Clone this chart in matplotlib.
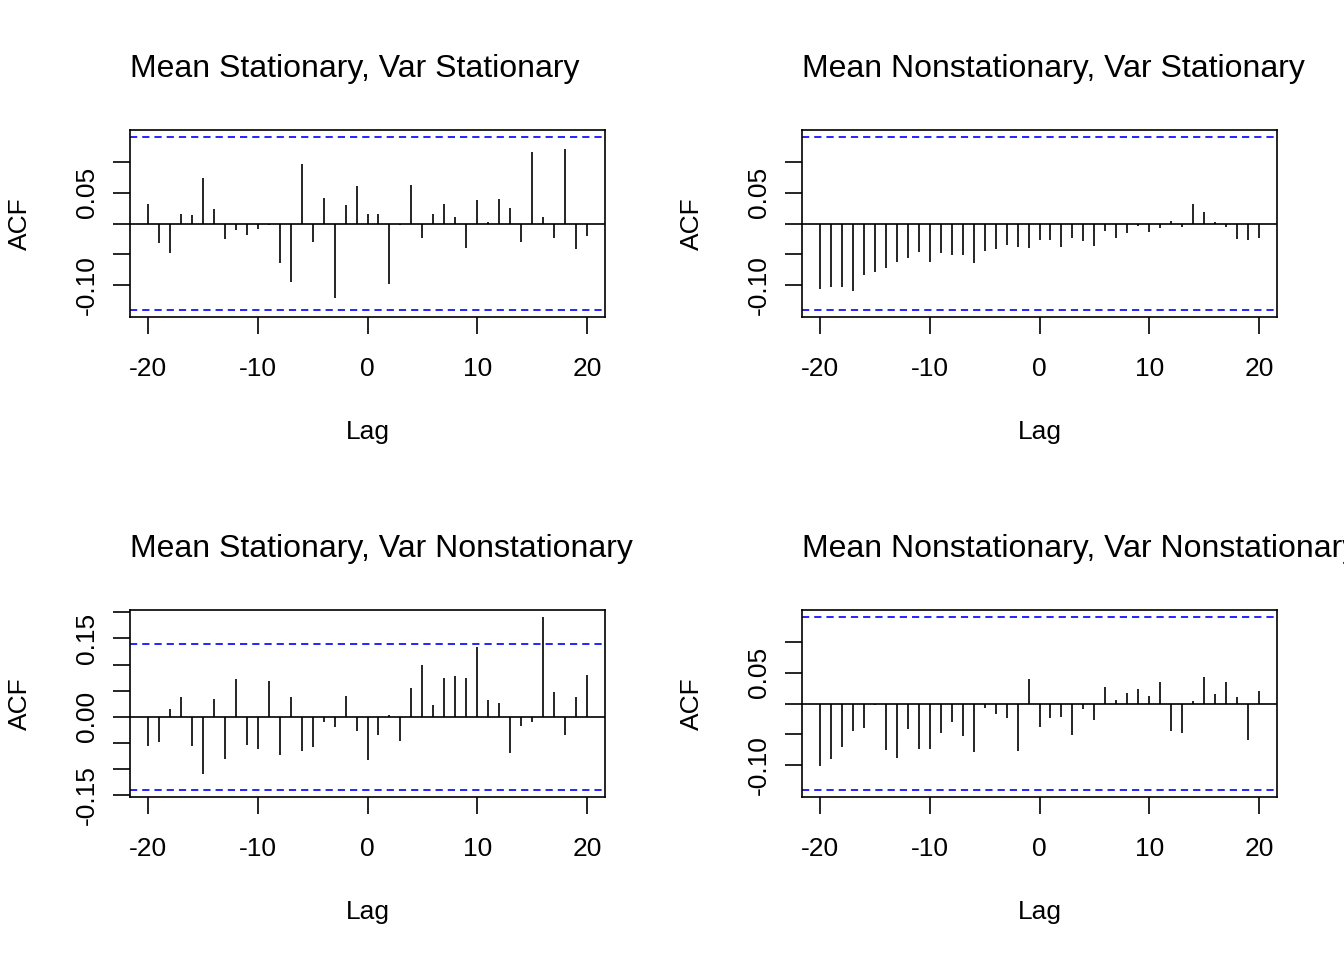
import numpy as np
from matplotlib import pyplot as plt

plt.rcParams['font.family'] = ['Liberation Sans', 'DejaVu Sans']
plt.rcParams['lines.scale_dashes'] = False

lags = np.arange(-20, 21)
ci = 0.140

titles = ['Mean Stationary, Var Stationary',
          'Mean Nonstationary, Var Stationary',
          'Mean Stationary, Var Nonstationary',
          'Mean Nonstationary, Var Nonstationary']

acf_ss = [0.031, -0.031, -0.047, 0.015, 0.013, 0.074, 0.023, -0.025, -0.011, -0.019,
          -0.009, -0.003, -0.064, -0.094, 0.096, -0.030, 0.042, -0.120, 0.030, 0.061,
          0.015,
          0.015, -0.098, -0.003, 0.063, -0.023, 0.015, 0.032, 0.010, -0.039, 0.038,
          0.002, 0.040, 0.025, -0.030, 0.115, 0.010, -0.023, 0.120, -0.041, -0.021]
acf_ns = [-0.106, -0.103, -0.103, -0.109, -0.083, -0.078, -0.072, -0.062, -0.056, -0.046,
          -0.062, -0.047, -0.051, -0.051, -0.064, -0.045, -0.042, -0.035, -0.038, -0.039,
          -0.027,
          -0.027, -0.038, -0.024, -0.028, -0.036, -0.012, -0.023, -0.015, -0.004, -0.014,
          -0.008, 0.004, -0.005, 0.031, 0.018, 0.003, -0.005, -0.025, -0.027, -0.024]
acf_sn = [-0.055, -0.049, 0.015, 0.037, -0.055, -0.110, 0.034, -0.080, 0.072, -0.054,
          -0.061, 0.069, -0.072, 0.037, -0.066, -0.058, -0.009, -0.019, 0.039, -0.028,
          -0.083,
          -0.035, 0.004, -0.047, 0.056, 0.099, 0.023, 0.075, 0.078, 0.075, 0.134,
          0.032, 0.026, -0.070, -0.018, -0.010, 0.191, 0.047, -0.035, 0.037, 0.080]
acf_nn = [-0.101, -0.090, -0.070, -0.045, -0.040, -0.002, -0.075, -0.088, -0.042, -0.074,
          -0.073, -0.047, -0.030, -0.052, -0.078, -0.008, -0.017, -0.023, -0.077, 0.040,
          -0.038,
          -0.024, -0.022, -0.051, -0.009, -0.026, 0.027, 0.006, 0.017, 0.024, 0.012,
          0.035, -0.044, -0.047, 0.004, 0.043, 0.016, 0.035, 0.010, -0.059, 0.020]

yticks_a = [-0.10, -0.05, 0.00, 0.05, 0.10]
ylabels_a = ['-0.10', '', '', '0.05', '']
yticks_b = [-0.15, -0.10, -0.05, 0.00, 0.05, 0.10, 0.15, 0.20]
ylabels_b = ['-0.15', '', '', '0.00', '', '', '0.15', '']

W, H = 1344, 960
boxes = [(130, 130), (802, 130), (130, 610), (802, 610)]
series = [acf_ss, acf_ns, acf_sn, acf_nn]
ticksets = [(yticks_a, ylabels_a), (yticks_a, ylabels_a),
            (yticks_b, ylabels_b), (yticks_a, ylabels_a)]

fig = plt.figure(figsize=(W / 100, H / 100), dpi=100)

for (left, top), acf, title, (yt, yl) in zip(boxes, series, titles, ticksets):
    ax = fig.add_axes([left / W, 1 - (top + 187) / H, 475 / W, 187 / H])
    acf = np.array(acf)
    ax.vlines(lags, 0, acf, colors='black', lw=1.2)
    ax.axhline(0, color='black', lw=1.2)
    for c in (ci, -ci):
        ax.axhline(c, color='blue', lw=1.2, ls=(0, (5.2, 3.6)))
    lo = min(acf.min(), -ci)
    hi = max(acf.max(), ci)
    pad = 0.04 * (hi - lo)
    ax.set_ylim(lo - pad, hi + pad)
    ax.set_xlim(-21.6, 21.6)
    ax.set_xticks([-20, -10, 0, 10, 20])
    ax.set_xticklabels(['-20', '-10', '0', '10', '20'])
    ax.set_yticks(yt)
    ax.set_yticklabels(yl, rotation=90, va='center')
    ax.tick_params(labelsize=19, length=12.5, width=1.2, pad=10)
    ax.tick_params(axis='x', pad=16)
    for s in ax.spines.values():
        s.set_linewidth(1.2)
    ax.text(0, 1 + 61 / 187, title, transform=ax.transAxes, fontsize=23,
            ha='left', va='center')
    ax.text(0.5, -115 / 187, 'Lag', transform=ax.transAxes, fontsize=19,
            ha='center', va='center')
    ax.text(-110 / 475, 0.5, 'ACF', transform=ax.transAxes, fontsize=19,
            ha='center', va='center', rotation=90)

fig.savefig('out.png', dpi=100)
